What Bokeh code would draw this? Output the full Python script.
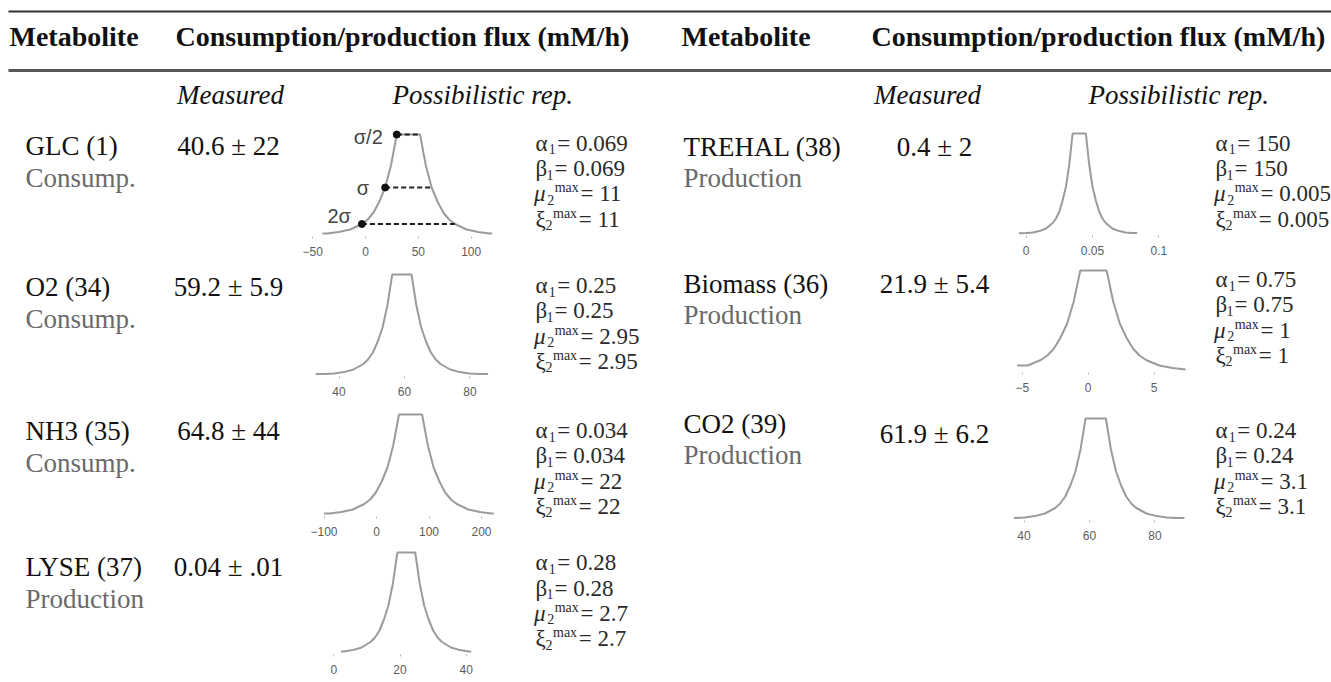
from bokeh.plotting import figure
from bokeh.layouts import column, row
from bokeh.models import Range1d, FixedTicker, Spacer, CustomJSTickFormatter
from bokeh.core.properties import value
from bokeh.embed import file_html
from bokeh.resources import INLINE

# ---------------- table content ----------------
left_names = ["GLC (1)", "O2 (34)", "NH3 (35)", "LYSE (37)"]
left_roles = ["Consump.", "Consump.", "Consump.", "Production"]
left_measured = ["40.6 ± 22", "59.2 ± 5.9", "64.8 ± 44", "0.04 ± .01"]

right_names = ["TREHAL (38)", "Biomass (36)", "CO2 (39)"]
right_roles = ["Production", "Production", "Production"]
right_measured = ["0.4 ± 2", "21.9 ± 5.4", "61.9 ± 6.2"]

# possibility distribution shown in each row: centre and sigma
left_centre = [40.6, 59.2, 64.8, 21.9]
left_sigma = [22, 5.9, 44, 5.4]
right_centre = [0.04, 0.4, 61.9]
right_sigma = [0.01, 2, 6.2]

# how far each curve runs to the left / right of its centre (in sigma)
left_reach = [(3.7, 3.6), (4.46, 4.46), (3.75, 3.6), (3.65, 3.63)]
right_reach = [(4.55, 4.37), (2.9, 3.5), (4.03, 4.37)]

# shared possibility profile: distance from centre (sigma) -> possibility
profile_offset = [0.5, 0.75, 1.0, 1.25, 1.5, 1.75, 2.0, 2.5, 3.0, 3.5, 4.0, 4.5]
profile_level = [1.0, 0.69, 0.47, 0.33, 0.22, 0.15, 0.105, 0.05, 0.024, 0.011, 0.005, 0.0025]

# sigma markers drawn on the first distribution
sigma_marks = [0.5, 1.0, 2.0]
sigma_marks_text = ["σ/2", "σ", "2σ"]

# tick values of the small axes
left_ticks = [[-50, 0, 50, 100], [40, 60, 80], [-100, 0, 100, 200], [0, 20, 40]]
right_ticks = [[0, 0.05, 0.1], [-5, 0, 5], [40, 60, 80]]

# cost parameters
left_alpha = ["0.069", "0.25", "0.034", "0.28"]
left_beta = ["0.069", "0.25", "0.034", "0.28"]
left_mu = ["11", "2.95", "22", "2.7"]
left_xi = ["11", "2.95", "22", "2.7"]
right_alpha = ["150", "0.75", "0.24"]
right_beta = ["150", "0.75", "0.24"]
right_mu = ["0.005", "1", "3.1"]
right_xi = ["0.005", "1", "3.1"]

# ---------------- page geometry ----------------
W, H = 1331, 682
HEAD_H = 115
SERIF = value("Liberation Serif")
SANS = value("Liberation Sans")

left_xrange = [(-61.5, 137.2), (28.24, 92.37), (-144.8, 255.2), (-10.06, 53.38)]
right_xrange = [(-0.01938, 0.12768), (-6.664, 8.153), (32.82, 92.37)]
# (cell height, border above frame, border below frame)
left_cells = [(149, 11, 28), (140, 2, 28), (138, 2, 26), (140, 2, 28)]
right_cells = [(145, 10, 25), (140, 2, 28), (145, 10, 25)]

left_name_y = [145.7, 286.7, 430.7, 566.7]
right_name_y = [146, 283.3, 423.3]
right_value_y = [146, 283.3, 433.3]
left_param_y = [142.7, 285, 430, 562.3]
right_param_y = [142.7, 279, 430]


def canvas(x0, x1, y0, y1):
    p = figure(width=x1 - x0, height=y1 - y0,
               x_range=Range1d(x0, x1), y_range=Range1d(y1, y0),
               x_axis_location=None, y_axis_location=None,
               min_border=0, toolbar_location=None, output_backend="svg")
    p.outline_line_color = None
    p.xgrid.visible = False
    p.ygrid.visible = False
    return p


def curve(centre, sigma, reach):
    left, right = reach
    lo = [(o, l) for o, l in zip(profile_offset, profile_level) if o <= left]
    hi = [(o, l) for o, l in zip(profile_offset, profile_level) if o <= right]
    xs = [centre - left * sigma]
    ys = [lo[-1][1]]
    for o, l in reversed(lo):
        xs.append(centre - o * sigma)
        ys.append(l)
    for o, l in hi:
        xs.append(centre + o * sigma)
        ys.append(l)
    xs.append(centre + right * sigma)
    ys.append(hi[-1][1])
    return xs, ys


tick_fmt = CustomJSTickFormatter(code="return tick < 0 ? '\u2212' + String(-tick) : String(tick);")


def mini_plot(width, cell, xr, centre, sigma, reach, ticks, marks=False):
    h, top, bottom = cell
    p = figure(width=width, height=h, x_range=Range1d(*xr), y_range=Range1d(-0.02, 1.08),
               min_border_left=0, min_border_right=0,
               min_border_top=top, min_border_bottom=bottom,
               y_axis_location=None, toolbar_location=None, output_backend="svg")
    p.outline_line_color = None
    p.xgrid.visible = False
    p.ygrid.visible = False
    xs, ys = curve(centre, sigma, reach)
    p.line(xs, ys, line_color="#9b9b9b", line_width=2)
    if marks:
        lv = [profile_level[profile_offset.index(k)] for k in sigma_marks]
        x0 = [centre - k * sigma for k in sigma_marks]
        x1 = [centre + k * sigma for k in sigma_marks]
        p.segment(x0=x0, x1=x1, y0=lv, y1=lv, line_color="#222222",
                  line_width=2, line_dash="5 3")
        p.scatter(x=x0, y=lv, size=7, color="#111111")
        p.text(x=x0, y=lv, text=sigma_marks_text, x_offset=[-14, -16, -11],
               y_offset=[2, 0, -8], text_align="right", text_baseline="middle",
               text_font=SANS, text_font_size="20px", text_color="#444444")
    ax = p.xaxis[0]
    ax.ticker = FixedTicker(ticks=ticks)
    ax.formatter = tick_fmt
    ax.axis_line_color = None
    ax.major_tick_in = 0
    ax.major_tick_out = 2
    ax.major_tick_line_color = "#b5b5b5"
    ax.minor_tick_line_color = None
    ax.major_label_text_font = "Liberation Sans"
    ax.major_label_text_font_size = "12px"
    ax.major_label_text_color = "#5c5c5c"
    ax.major_label_standoff = 8
    return p


def param_block(p, x0, y0, vals, dy=25.3):
    syms = ["α", "β", "μ", "ξ"]
    subs = ["1", "1", "2", "2"]
    sym_dx = [0, 0, -1.5, 0]
    sub_dx = [13.3, 11, 11.7, 10]
    eq_dx = [21.7, 19, 45, 43.3]
    ys = [y0 + i * dy for i in range(4)]
    col = "#2a2a2a"
    for i in range(4):
        p.text(x=[x0 + sym_dx[i]], y=[ys[i]], text=[syms[i]], text_font=SERIF,
               text_font_size="23px", text_font_style="italic" if syms[i] == "μ" else "normal",
               text_baseline="middle", text_color=col)
        p.text(x=[x0 + sub_dx[i]], y=[ys[i] + 6], text=[subs[i]], text_font=SERIF,
               text_font_size="14px", text_baseline="middle", text_color=col)
        if i >= 2:
            p.text(x=[x0 + sub_dx[i] + 7.5], y=[ys[i] - 6], text=["max"], text_font=SERIF,
                   text_font_size="14px", text_baseline="middle", text_color=col)
        p.text(x=[x0 + eq_dx[i]], y=[ys[i]], text=["= " + vals[i]], text_font=SERIF,
               text_font_size="23px", text_baseline="middle", text_color=col)


# ---------------- header ----------------
head = canvas(0, W, 0, HEAD_H)
head.segment(x0=[8], x1=[W], y0=[11], y1=[11], line_color="#333333", line_width=2)
head.segment(x0=[8], x1=[W], y0=[70], y1=[70], line_color="#555555", line_width=3)
head.text(x=[9, 175, 681, 871], y=[36, 36, 36, 36],
          text=["Metabolite", "Consumption/production flux (mM/h)",
                "Metabolite", "Consumption/production flux (mM/h)"],
          text_font=SERIF, text_font_size="28px", text_font_style="bold",
          text_baseline="middle", text_color="#111111")
head.text(x=[230, 927], y=[94, 94], text=["Measured", "Measured"], text_align="center",
          text_font=SERIF, text_font_size="27px", text_font_style="italic",
          text_baseline="middle", text_color="#111111")
head.text(x=[392, 1088], y=[94, 94], text=["Possibilistic rep.", "Possibilistic rep."],
          text_font=SERIF, text_font_size="27px", text_font_style="italic",
          text_baseline="middle", text_color="#111111")

# ---------------- left half ----------------
left_text = canvas(0, 300, HEAD_H, H)
left_text.text(x=[25] * 4, y=left_name_y, text=left_names, text_font=SERIF,
               text_font_size="27px", text_baseline="middle", text_color="#111111")
left_text.text(x=[25] * 4, y=[y + 32 for y in left_name_y], text=left_roles, text_font=SERIF,
               text_font_size="27px", text_baseline="middle", text_color="#6a6a6a")
left_text.text(x=[228] * 4, y=left_name_y, text=left_measured, text_font=SERIF,
               text_font_size="27px", text_align="center", text_baseline="middle",
               text_color="#111111")

left_plots = [mini_plot(210, left_cells[i], left_xrange[i], left_centre[i], left_sigma[i],
                        left_reach[i], left_ticks[i], marks=(i == 0)) for i in range(4)]

left_params = canvas(510, 670, HEAD_H, H)
for i in range(4):
    param_block(left_params, 535, left_param_y[i],
                [left_alpha[i], left_beta[i], left_mu[i], left_xi[i]])

# ---------------- right half ----------------
right_text = canvas(670, 1000, HEAD_H, H)
right_text.text(x=[683] * 3, y=right_name_y, text=right_names, text_font=SERIF,
                text_font_size="27px", text_baseline="middle", text_color="#111111")
right_text.text(x=[683] * 3, y=[y + 31 for y in right_name_y], text=right_roles, text_font=SERIF,
                text_font_size="27px", text_baseline="middle", text_color="#6a6a6a")
right_text.text(x=[934] * 3, y=right_value_y, text=right_measured, text_font=SERIF,
                text_font_size="27px", text_align="center", text_baseline="middle",
                text_color="#111111")

right_plots = [mini_plot(195, right_cells[i], right_xrange[i], right_centre[i], right_sigma[i],
                         right_reach[i], right_ticks[i]) for i in range(3)]

right_params = canvas(1195, W, HEAD_H, H)
for i in range(3):
    param_block(right_params, 1215, right_param_y[i],
                [right_alpha[i], right_beta[i], right_mu[i], right_xi[i]])

body = row(left_text, column(*left_plots), left_params, right_text,
           column(*right_plots, Spacer(width=195, height=137)), right_params)
page = column(head, body)

open("out.html", "w").write(file_html(page, INLINE))
